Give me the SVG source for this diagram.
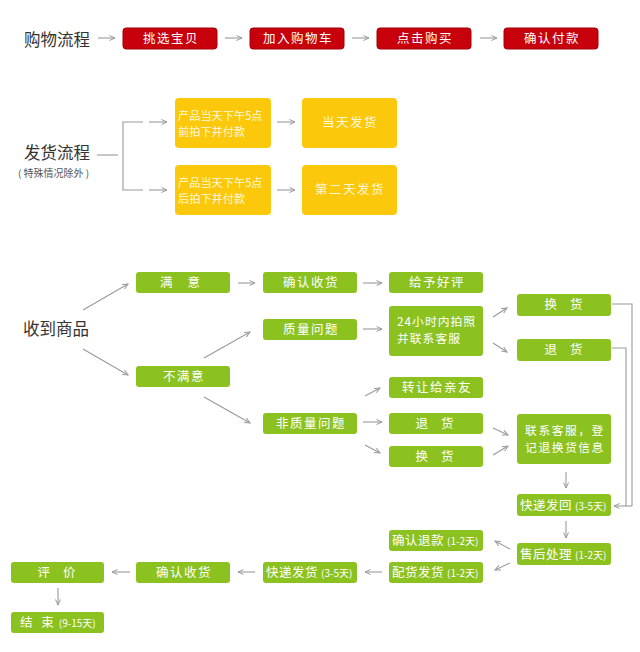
<svg xmlns="http://www.w3.org/2000/svg" width="640" height="652" viewBox="0 0 640 652">
<defs>
<marker id="ah" markerWidth="8" markerHeight="8" refX="6" refY="3" orient="auto" markerUnits="userSpaceOnUse">
<path d="M0.5,0.5 L6,3 L0.5,5.5" fill="none" stroke="#9a9a9a" stroke-width="1"/>
</marker>
<style>
text{font-family:"Noto Sans CJK SC","Noto Sans",sans-serif;}
.title{font-size:16.5px;fill:#333;}
.sub{font-size:10px;fill:#555;}
.red{fill:#c7000b;stroke:#a30008;stroke-width:1;}
.yel{fill:#fcc80c;}
.grn{fill:#8cc21f;}
.bt{font-size:12.5px;fill:#fff;text-anchor:middle;letter-spacing:1.5px;}
.bl{font-size:12.5px;fill:#fff;letter-spacing:1px;}
.yt{font-size:11.2px;fill:#fff8dc;}
.sm{font-size:10px;letter-spacing:0;}
.ln{fill:none;stroke:#9a9a9a;stroke-width:1.1;}
.ar{fill:none;stroke:#9a9a9a;stroke-width:1.1;marker-end:url(#ah);}
</style>
</defs>
<rect width="640" height="652" fill="#fff"/>

<g id="labels">
<text class="title" x="24" y="46">购物流程</text>
<text class="title" x="24" y="159">发货流程</text>
<text class="sub" x="18" y="177">( 特殊情况除外 )</text>
<text class="title" x="23" y="335">收到商品</text>
</g>

<g id="connectors">
<line class="ar" x1="98" y1="38" x2="115" y2="38"/>
<line class="ar" x1="225" y1="38" x2="242" y2="38"/>
<line class="ar" x1="352" y1="38" x2="369" y2="38"/>
<line class="ar" x1="480" y1="38" x2="497" y2="38"/>

<line class="ln" x1="97" y1="155" x2="118" y2="155"/>
<polyline class="ln" points="143,122 123,122 123,190 143,190"/>
<line class="ar" x1="149" y1="122" x2="167" y2="122"/>
<line class="ar" x1="149" y1="190" x2="167" y2="190"/>
<line class="ar" x1="277" y1="122" x2="295" y2="122"/>
<line class="ar" x1="277" y1="190" x2="295" y2="190"/>

<line class="ar" x1="83" y1="310" x2="128" y2="284"/>
<line class="ar" x1="83" y1="349" x2="128" y2="375"/>
<line class="ar" x1="238" y1="283" x2="255" y2="283"/>
<line class="ar" x1="204" y1="358" x2="250" y2="332"/>
<line class="ar" x1="204" y1="397" x2="250" y2="423"/>
<line class="ar" x1="363" y1="283" x2="382" y2="283"/>
<line class="ar" x1="363" y1="329" x2="382" y2="329"/>
<line class="ar" x1="493" y1="317" x2="507" y2="308"/>
<line class="ar" x1="493" y1="343" x2="507" y2="352"/>
<polyline class="ln" points="612,304 632,304 632,506"/>
<polyline class="ln" points="612,348 626,348 626,506"/>
<line class="ar" x1="632" y1="506" x2="614" y2="506"/>
<line class="ar" x1="365" y1="396" x2="380" y2="388"/>
<line class="ar" x1="363" y1="422" x2="382" y2="422"/>
<line class="ar" x1="365" y1="445" x2="380" y2="453"/>
<line class="ar" x1="493" y1="428" x2="508" y2="435"/>
<line class="ar" x1="493" y1="455" x2="508" y2="446"/>
<line class="ar" x1="566" y1="472" x2="566" y2="488"/>
<line class="ar" x1="566" y1="521" x2="566" y2="538"/>
<line class="ar" x1="510" y1="549" x2="495" y2="541"/>
<line class="ar" x1="510" y1="563" x2="495" y2="570"/>
<line class="ar" x1="382" y1="572" x2="365" y2="572"/>
<line class="ar" x1="255" y1="572" x2="238" y2="572"/>
<line class="ar" x1="130" y1="572" x2="112" y2="572"/>
<line class="ar" x1="58" y1="588" x2="58" y2="605"/>
</g>

<g id="n-tiaoxuan"><rect class="red" x="123" y="28" width="94" height="21" rx="3"/><text class="bt" x="171" y="43">挑选宝贝</text></g>
<g id="n-jiaru"><rect class="red" x="250" y="28" width="94" height="21" rx="3"/><text class="bt" x="298" y="43">加入购物车</text></g>
<g id="n-dianji"><rect class="red" x="377" y="28" width="94" height="21" rx="3"/><text class="bt" x="425" y="43">点击购买</text></g>
<g id="n-queren"><rect class="red" x="504" y="28" width="94" height="21" rx="3"/><text class="bt" x="552" y="43">确认付款</text></g>

<g id="n-before5"><rect class="yel" x="175" y="98" width="96" height="50" rx="4"/><text class="yt" x="178" y="120">产品当天下午5点</text><text class="yt" x="178" y="136">前拍下并付款</text></g>
<g id="n-after5"><rect class="yel" x="175" y="165" width="96" height="50" rx="4"/><text class="yt" x="178" y="187">产品当天下午5点</text><text class="yt" x="178" y="203">后拍下并付款</text></g>
<g id="n-today"><rect class="yel" x="302" y="98" width="95" height="50" rx="4"/><text class="bt" x="350" y="127" style="fill:#fff8dc">当天发货</text></g>
<g id="n-nextday"><rect class="yel" x="302" y="165" width="95" height="50" rx="4"/><text class="bt" x="350" y="194" style="fill:#fff8dc">第二天发货</text></g>

<g id="n-manyi"><rect class="grn" x="136" y="272" width="94" height="21" rx="3"/><text class="bt" x="183" y="287" style="letter-spacing:6px">满 意</text></g>
<g id="n-bumanyi"><rect class="grn" x="136" y="366" width="94" height="21" rx="3"/><text class="bt" x="184" y="381">不满意</text></g>
<g id="n-querenshouhuo1"><rect class="grn" x="263" y="272" width="94" height="21" rx="3"/><text class="bt" x="311" y="287">确认收货</text></g>
<g id="n-zhiliang"><rect class="grn" x="263" y="319" width="94" height="21" rx="3"/><text class="bt" x="311" y="334">质量问题</text></g>
<g id="n-feizhiliang"><rect class="grn" x="263" y="413" width="94" height="21" rx="3"/><text class="bt" x="311" y="428">非质量问题</text></g>
<g id="n-haoping"><rect class="grn" x="389" y="272" width="94" height="21" rx="3"/><text class="bt" x="437" y="287">给予好评</text></g>
<g id="n-24h"><rect class="grn" x="389" y="306" width="94" height="50" rx="3"/><text class="bl" x="397" y="326" style="font-size:11.8px">24小时内拍照</text><text class="bl" x="397" y="343" style="font-size:11.8px">并联系客服</text></g>
<g id="n-zhuanrang"><rect class="grn" x="389" y="377" width="94" height="21" rx="3"/><text class="bt" x="437" y="392">转让给亲友</text></g>
<g id="n-tuihuo2"><rect class="grn" x="389" y="413" width="94" height="21" rx="3"/><text class="bt" x="437" y="428" style="letter-spacing:5px">退 货</text></g>
<g id="n-huanhuo2"><rect class="grn" x="389" y="446" width="94" height="21" rx="3"/><text class="bt" x="437" y="461" style="letter-spacing:5px">换 货</text></g>
<g id="n-huanhuo1"><rect class="grn" x="517" y="294" width="94" height="22" rx="3"/><text class="bt" x="566" y="309" style="letter-spacing:5px">换 货</text></g>
<g id="n-tuihuo1"><rect class="grn" x="517" y="339" width="94" height="22" rx="3"/><text class="bt" x="566" y="354" style="letter-spacing:5px">退 货</text></g>
<g id="n-lianxi"><rect class="grn" x="517" y="414" width="94" height="50" rx="3"/><text class="bt" x="565" y="435" style="font-size:11.8px">联系客服，登</text><text class="bt" x="565" y="452" style="font-size:11.8px">记退换货信息</text></g>
<g id="n-fahui"><rect class="grn" x="517" y="494" width="94" height="22" rx="3"/><text class="bl" x="520" y="510" style="letter-spacing:0.5px">快递发回<tspan class="sm" dx="3">(3-5天)</tspan></text></g>
<g id="n-shouhou"><rect class="grn" x="517" y="543" width="94" height="22" rx="3"/><text class="bl" x="520" y="559" style="letter-spacing:0.5px">售后处理<tspan class="sm" dx="3">(1-2天)</tspan></text></g>
<g id="n-tuikuan"><rect class="grn" x="389" y="530" width="94" height="21" rx="3"/><text class="bl" x="392" y="545" style="letter-spacing:0.5px">确认退款<tspan class="sm" dx="3">(1-2天)</tspan></text></g>
<g id="n-peihuo"><rect class="grn" x="389" y="562" width="94" height="21" rx="3"/><text class="bl" x="392" y="577" style="letter-spacing:0.5px">配货发货<tspan class="sm" dx="3">(1-2天)</tspan></text></g>
<g id="n-kuaidi"><rect class="grn" x="263" y="562" width="94" height="21" rx="3"/><text class="bl" x="266" y="577" style="letter-spacing:0.5px">快递发货<tspan class="sm" dx="3">(3-5天)</tspan></text></g>
<g id="n-querenshouhuo2"><rect class="grn" x="136" y="562" width="94" height="21" rx="3"/><text class="bt" x="184" y="577">确认收货</text></g>
<g id="n-pingjia"><rect class="grn" x="11" y="562" width="93" height="21" rx="3"/><text class="bt" x="59" y="577" style="letter-spacing:5px">评 价</text></g>
<g id="n-jieshu"><rect class="grn" x="11" y="612" width="93" height="21" rx="3"/><text class="bl" x="20" y="627" style="letter-spacing:3px">结 束<tspan class="sm" dx="2" style="letter-spacing:0">(9-15天)</tspan></text></g>
</svg>
